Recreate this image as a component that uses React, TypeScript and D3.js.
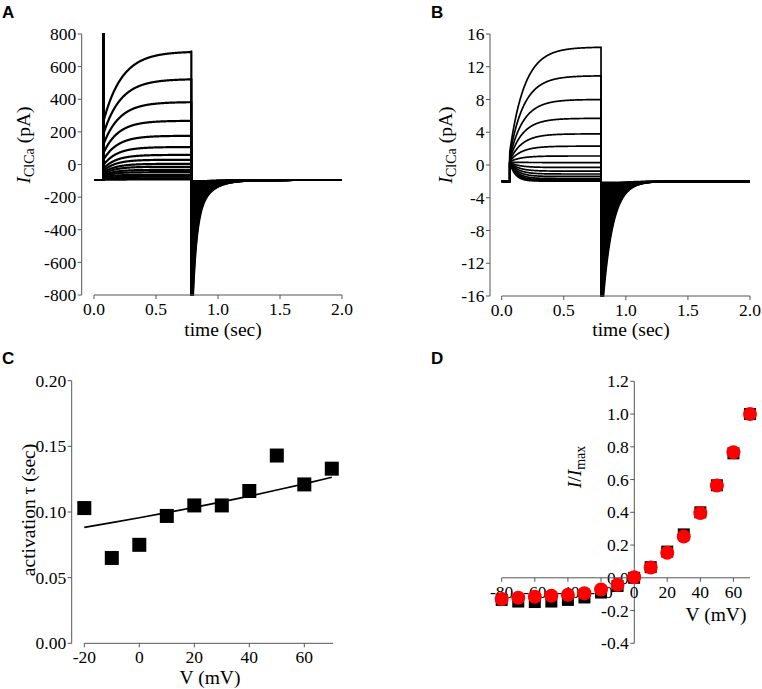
import React from 'react';
import * as d3 from 'd3';

// ---------- Panel A: recorded I_ClCa traces ----------
const timeTicks = [0, 0.5, 1.0, 1.5, 2.0];
const aYTicks = [-800, -600, -400, -200, 0, 200, 400, 600, 800];
const aBaseline = -95;
const aStepOn = 0.075;
const aStepOff = 0.785;
const aArtifact = 900;
const aSteady = [693, 524, 383, 268, 176, 107, 59, 29, 4, -14, -33, -47, -63, -75, -85, -92];
const aInstant = [260, 184, 120, 68, 27, -4, -26, -39, -50, -58, -67, -73, -80, -86, -90, -94];
const aTau = [0.15, 0.14, 0.13, 0.12, 0.115, 0.11, 0.105, 0.1, 0.1, 0.095, 0.09, 0.085, 0.08, 0.075, 0.07, 0.065];
const aTailFrac = [1.0, 0.94, 0.88, 0.81, 0.75, 0.69, 0.63, 0.56, 0.5, 0.44, 0.38, 0.31, 0.25, 0.19, 0.13, 0.06];
const aTailFastAmp = 700;
const aTailFastTau = 0.03;
const aTailSlowAmp = 290;
const aTailSlowTau = 0.11;

// ---------- Panel B: simulated I_ClCa traces ----------
const bYTicks = [-16, -12, -8, -4, 0, 4, 8, 12, 16];
const bBaseline = -2;
const bStepOn = 0.065;
const bStepOff = 0.8;
const bSteady = [14.4, 10.9, 8.0, 5.7, 3.8, 2.3, 1.1, 0.3, -0.3, -0.75, -1.1, -1.4, -1.65, -1.8, -1.9, -1.97];
const bInstant = [1.6, 1.2, 0.9, 0.7, 0.55, 0.45, 0.4, 0.35, 0.3, 0.3, 0.3, 0.3, 0.3, 0.3, 0.3, 0.3];
const bTau = [0.12, 0.115, 0.11, 0.105, 0.1, 0.095, 0.09, 0.085, 0.08, 0.075, 0.07, 0.065, 0.06, 0.055, 0.05, 0.045];
const bTailAmp = [18, 16.9, 15.8, 14.6, 13.5, 12.4, 11.3, 10.1, 9.0, 7.9, 6.8, 5.6, 4.5, 3.4, 2.3, 1.1];
const bTailTau = 0.08;

// ---------- Panel C: activation tau ----------
const cVolt = [-20, -10, 0, 10, 20, 30, 40, 50, 60, 70];
const cTau = [0.103, 0.065, 0.075, 0.097, 0.105, 0.105, 0.116, 0.143, 0.121, 0.133];
const cFit = [0.0883, 0.0919, 0.0956, 0.0995, 0.1035, 0.1077, 0.1121, 0.1167, 0.1214, 0.1264];
const cXTicks = [-20, 0, 20, 40, 60];
const cYTicks = [0.0, 0.05, 0.1, 0.15, 0.2];

// ---------- Panel D: normalized I-V ----------
const dVolt = [-80, -70, -60, -50, -40, -30, -20, -10, 0, 10, 20, 30, 40, 50, 60, 70];
const dSquares = [-0.135, -0.145, -0.148, -0.145, -0.135, -0.12, -0.09, -0.05, 0.0, 0.065, 0.16, 0.265, 0.4, 0.565, 0.76, 1.0];
const dCircles = [-0.13, -0.122, -0.116, -0.11, -0.104, -0.094, -0.071, -0.043, 0.004, 0.063, 0.153, 0.252, 0.395, 0.564, 0.767, 1.0];
const dXTicks = [-80, -60, -40, -20, 0, 20, 40, 60];
const dYTicks = [-0.4, -0.2, 0.0, 0.2, 0.4, 0.6, 0.8, 1.0, 1.2];

const SERIF = '"Liberation Serif", "Times New Roman", serif';
const SANS = '"Liberation Sans", Arial, sans-serif';
const AXC = '#555';
const TICK_FS = 17.5;
const TITLE_FS = 19.5;

type Pt = [number, number];

function buildTrace(
  base: number, on: number, off: number, inst: number, ss: number, tau: number,
  tail: (dt: number) => number, artifact: number | null
): Pt[] {
  const pts: Pt[] = [[0, base], [on, base]];
  if (artifact !== null) { pts.push([on, artifact]); }
  pts.push([on, inst]);
  d3.range(on + 0.001, off, 0.002).forEach((t) => {
    pts.push([t, ss - (ss - inst) * Math.exp(-(t - on) / tau)]);
  });
  pts.push([off, ss]);
  if (artifact !== null) { pts.push([off, -artifact]); }
  d3.range(0, 0.15, 0.0005).forEach((dt) => pts.push([off + dt, base - tail(dt)]));
  d3.range(0.15, 2.0 - off + 0.0001, 0.004).forEach((dt) => pts.push([off + dt, base - tail(dt)]));
  return pts;
}

function tailEnvelope(off: number, tail: (dt: number) => number): number[][] {
  const out: number[][] = [];
  d3.range(0, 0.15, 0.0005).forEach((dt) => out.push([off + dt, tail(dt)]));
  d3.range(0.15, 2.0 - off + 0.0001, 0.004).forEach((dt) => out.push([off + dt, tail(dt)]));
  return out;
}

function fmt(v: number, digits: number) {
  return v.toFixed(digits);
}

function YAxis({ x, y, ticks, digits, y0, y1 }: { x: number; y: d3.ScaleLinear<number, number>; ticks: number[]; digits: number; y0: number; y1: number }) {
  return (
    <g>
      <line x1={x} x2={x} y1={y0} y2={y1} stroke={AXC} strokeWidth={1} />
      {ticks.map((t) => (
        <g key={t}>
          <line x1={x - 4} x2={x} y1={y(t)} y2={y(t)} stroke={AXC} strokeWidth={1} />
          <text x={x - 5.5} y={y(t)} dy="0.35em" textAnchor="end" fontFamily={SERIF} fontSize={TICK_FS} fill="#000">
            {fmt(t, digits)}
          </text>
        </g>
      ))}
    </g>
  );
}

function XAxis({ y, x, ticks, digits, x0, x1 }: { y: number; x: d3.ScaleLinear<number, number>; ticks: number[]; digits: number; x0: number; x1: number }) {
  return (
    <g>
      <line x1={x0} x2={x1} y1={y} y2={y} stroke={AXC} strokeWidth={1} />
      {ticks.map((t) => (
        <g key={t}>
          <line x1={x(t)} x2={x(t)} y1={y} y2={y + 4} stroke={AXC} strokeWidth={1} />
          <text x={x(t)} y={y + 20} textAnchor="middle" fontFamily={SERIF} fontSize={TICK_FS} fill="#000">
            {fmt(t, digits)}
          </text>
        </g>
      ))}
    </g>
  );
}

export default function App() {
  // Panel A scales
  const axA = d3.scaleLinear().domain([0, 2]).range([94, 342]);
  const ayA = d3.scaleLinear().domain([-800, 800]).range([295, 34]);
  // Panel B scales
  const axB = d3.scaleLinear().domain([0, 2]).range([501.7, 750]);
  const ayB = d3.scaleLinear().domain([-16, 16]).range([296, 34]);
  // Panel C scales
  const axC = d3.scaleLinear().domain([-20, 70]).range([84.3, 331.8]);
  const ayC = d3.scaleLinear().domain([0, 0.2]).range([643.3, 380.7]);
  // Panel D scales
  const axD = d3.scaleLinear().domain([-80, 70]).range([501.7, 750]);
  const ayD = d3.scaleLinear().domain([-0.4, 1.2]).range([643.3, 381.3]);

  const lineA = d3.line<Pt>().x((d) => axA(d[0])).y((d) => ayA(d[1]));
  const lineB = d3.line<Pt>().x((d) => axB(d[0])).y((d) => ayB(d[1]));

  const tailA = (i: number) => (dt: number) =>
    aTailFrac[i] * (aTailFastAmp * Math.exp(-dt / aTailFastTau) + aTailSlowAmp * Math.exp(-dt / aTailSlowTau));
  const tailB = (i: number) => (dt: number) => bTailAmp[i] * Math.exp(-dt / bTailTau);

  const tracesA = aSteady.map((ss, i) =>
    buildTrace(aBaseline, aStepOn, aStepOff, aInstant[i], ss, aTau[i], tailA(i), aArtifact)
  );
  const tracesB = bSteady.map((ss, i) =>
    buildTrace(bBaseline, bStepOn, bStepOff, bInstant[i], ss, bTau[i], tailB(i), null)
  );

  // Envelopes of the overlapping tail bundles
  const areaA = d3.area<number[]>().x((d) => axA(d[0])).y0(ayA(aBaseline)).y1((d) => ayA(aBaseline - d[1]));
  const areaB = d3.area<number[]>().x((d) => axB(d[0])).y0(ayB(bBaseline)).y1((d) => ayB(bBaseline - d[1]));
  const envA = tailEnvelope(aStepOff, tailA(0));
  const envB = tailEnvelope(bStepOff, tailB(0));

  const fitLine = d3.line<number>().x((_, i) => axC(cVolt[i])).y((d) => ayC(d));

  const sq = 14;
  const sqD = 12;

  return (
    <svg width={762} height={689} style={{ position: 'absolute', left: 0, top: 0, background: '#fff' }}>
      <defs>
        <clipPath id="clipA"><rect x={90} y={33} width={254} height={263} /></clipPath>
        <clipPath id="clipB"><rect x={498} y={33} width={254} height={264} /></clipPath>
      </defs>

      {/* Panel letters */}
      <text x={2} y={18} fontFamily={SANS} fontWeight="bold" fontSize={17}>A</text>
      <text x={431} y={18} fontFamily={SANS} fontWeight="bold" fontSize={17}>B</text>
      <text x={2} y={364} fontFamily={SANS} fontWeight="bold" fontSize={17}>C</text>
      <text x={431} y={364} fontFamily={SANS} fontWeight="bold" fontSize={17}>D</text>

      {/* ---------- Panel A ---------- */}
      <g clipPath="url(#clipA)">
        <path d={areaA(envA) || ''} fill="#000" />
        {tracesA.map((tr, i) => (
          <path key={i} d={lineA(tr) || ''} fill="none" stroke="#000" strokeWidth={2.2} strokeLinejoin="round" />
        ))}
      </g>
      <YAxis x={81.7} y={ayA} ticks={aYTicks} digits={0} y0={34} y1={295} />
      <XAxis y={295} x={axA} ticks={timeTicks} digits={1} x0={94} x1={342} />
      <text x={223} y={336} textAnchor="middle" fontFamily={SERIF} fontSize={TITLE_FS}>time (sec)</text>
      <text transform="translate(30,145) rotate(-90)" textAnchor="middle" fontFamily={SERIF} fontSize={TITLE_FS}>
        <tspan fontStyle="italic">I</tspan>
        <tspan fontSize={14} dy={4}>ClCa</tspan>
        <tspan dy={-4}> (pA)</tspan>
      </text>

      {/* ---------- Panel B ---------- */}
      <g clipPath="url(#clipB)">
        <path d={areaB(envB) || ''} fill="#000" />
        {tracesB.map((tr, i) => (
          <path key={i} d={lineB(tr) || ''} fill="none" stroke="#000" strokeWidth={1.7} strokeLinejoin="round" />
        ))}
      </g>
      <YAxis x={490} y={ayB} ticks={bYTicks} digits={0} y0={34} y1={296} />
      <XAxis y={296} x={axB} ticks={timeTicks} digits={1} x0={501.7} x1={750} />
      <text x={631} y={336} textAnchor="middle" fontFamily={SERIF} fontSize={TITLE_FS}>time (sec)</text>
      <text transform="translate(452,145) rotate(-90)" textAnchor="middle" fontFamily={SERIF} fontSize={TITLE_FS}>
        <tspan fontStyle="italic">I</tspan>
        <tspan fontSize={14} dy={4}>ClCa</tspan>
        <tspan dy={-4}> (pA)</tspan>
      </text>

      {/* ---------- Panel C ---------- */}
      <YAxis x={71.7} y={ayC} ticks={cYTicks} digits={2} y0={380.7} y1={643.3} />
      <XAxis y={643.3} x={axC} ticks={cXTicks} digits={0} x0={84.3} x1={333} />
      <path d={fitLine(cFit) || ''} fill="none" stroke="#000" strokeWidth={1.6} />
      {cTau.map((v, i) => (
        <rect key={i} x={axC(cVolt[i]) - sq / 2} y={ayC(v) - sq / 2} width={sq} height={sq} fill="#000" />
      ))}
      <text x={210} y={684} textAnchor="middle" fontFamily={SERIF} fontSize={TITLE_FS}>V (mV)</text>
      <text transform="translate(35,510) rotate(-90)" textAnchor="middle" fontFamily={SERIF} fontSize={TITLE_FS}>
        activation τ (sec)
      </text>

      {/* ---------- Panel D ---------- */}
      <YAxis x={634.3} y={ayD} ticks={dYTicks} digits={1} y0={381.3} y1={643.3} />
      <XAxis y={ayD(0)} x={axD} ticks={dXTicks} digits={0} x0={501.7} x1={750} />
      {dSquares.map((v, i) => (
        <rect key={i} x={axD(dVolt[i]) - sqD / 2} y={ayD(v) - sqD / 2} width={sqD} height={sqD} fill="#000" />
      ))}
      {dCircles.map((v, i) => (
        <circle key={i} cx={axD(dVolt[i])} cy={ayD(v)} r={7} fill="#ff0000" />
      ))}
      <text x={716} y={621} textAnchor="middle" fontFamily={SERIF} fontSize={TITLE_FS}>V (mV)</text>
      <text transform="translate(581,467) rotate(-90)" textAnchor="middle" fontFamily={SERIF} fontSize={TITLE_FS}>
        <tspan fontStyle="italic">I</tspan>
        <tspan>/</tspan>
        <tspan fontStyle="italic">I</tspan>
        <tspan fontSize={14} dy={4}>max</tspan>
      </text>
    </svg>
  );
}
